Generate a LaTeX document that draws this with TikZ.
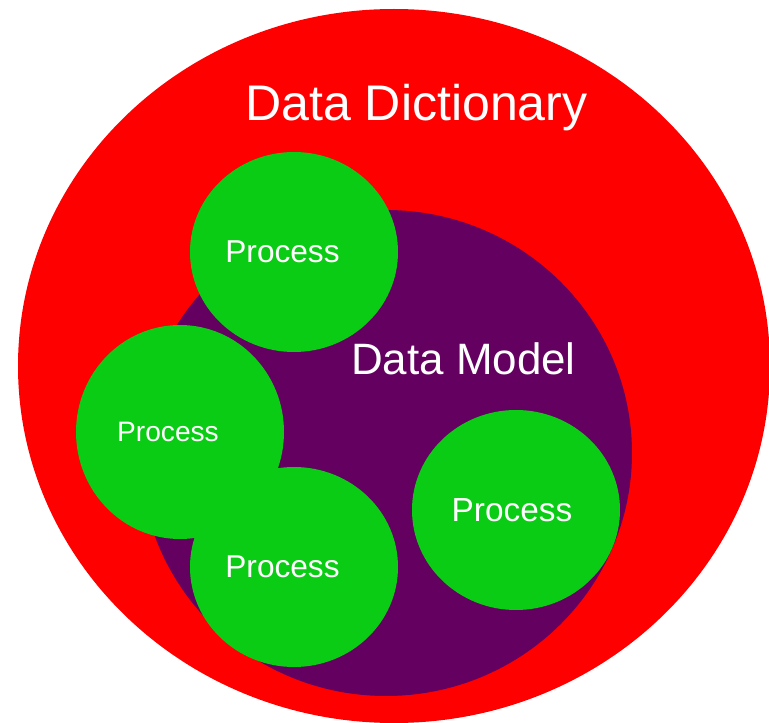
\documentclass[tikz,border=0pt]{standalone}
\usepackage{fontspec}
\setmainfont{Liberation Sans}
\usepackage{xcolor}
\definecolor{dictred}{RGB}{255,0,0}
\definecolor{modelpurple}{RGB}{100,0,96}
\definecolor{procgreen}{RGB}{10,204,20}
\tikzstyle{txt}=[text=white,anchor=base,inner sep=0pt]
\tikzstyle{process}=[fill=procgreen]
\tikzstyle{every node}=[font=\fontsize{18}{22}\selectfont]

\begin{document}
\begin{tikzpicture}[x=0.02cm,y=-0.02cm]
    \useasboundingbox (0,0) rectangle (769,723);
    \fill[dictred] (394,366) ellipse (376 and 357);
    \fill[modelpurple] (386,453) ellipse (246 and 243);
    \fill[process] (294,252) ellipse (104 and 100);
    \fill[process] (180,432) ellipse (104 and 107);
    \fill[process] (294,567) ellipse (104 and 100);
    \fill[process] (516,510) ellipse (104 and 100);
    \node[txt,font=\fontsize{28.5}{34}\selectfont] (dict) at (416.5,121) {Data Dictionary};
    \node[txt,font=\fontsize{25}{30}\selectfont] (model) at (463.5,375) {Data Model};
    \node[txt] (procTop) at (282.5,263) {Process};
    \node[txt,font=\fontsize{16}{19}\selectfont] (procLeft) at (168,442) {Process};
    \node[txt] (procBottom) at (282.5,578) {Process};
    \node[txt,font=\fontsize{19}{23}\selectfont] (procRight) at (512,522) {Process};
  \end{tikzpicture}
\end{document}
